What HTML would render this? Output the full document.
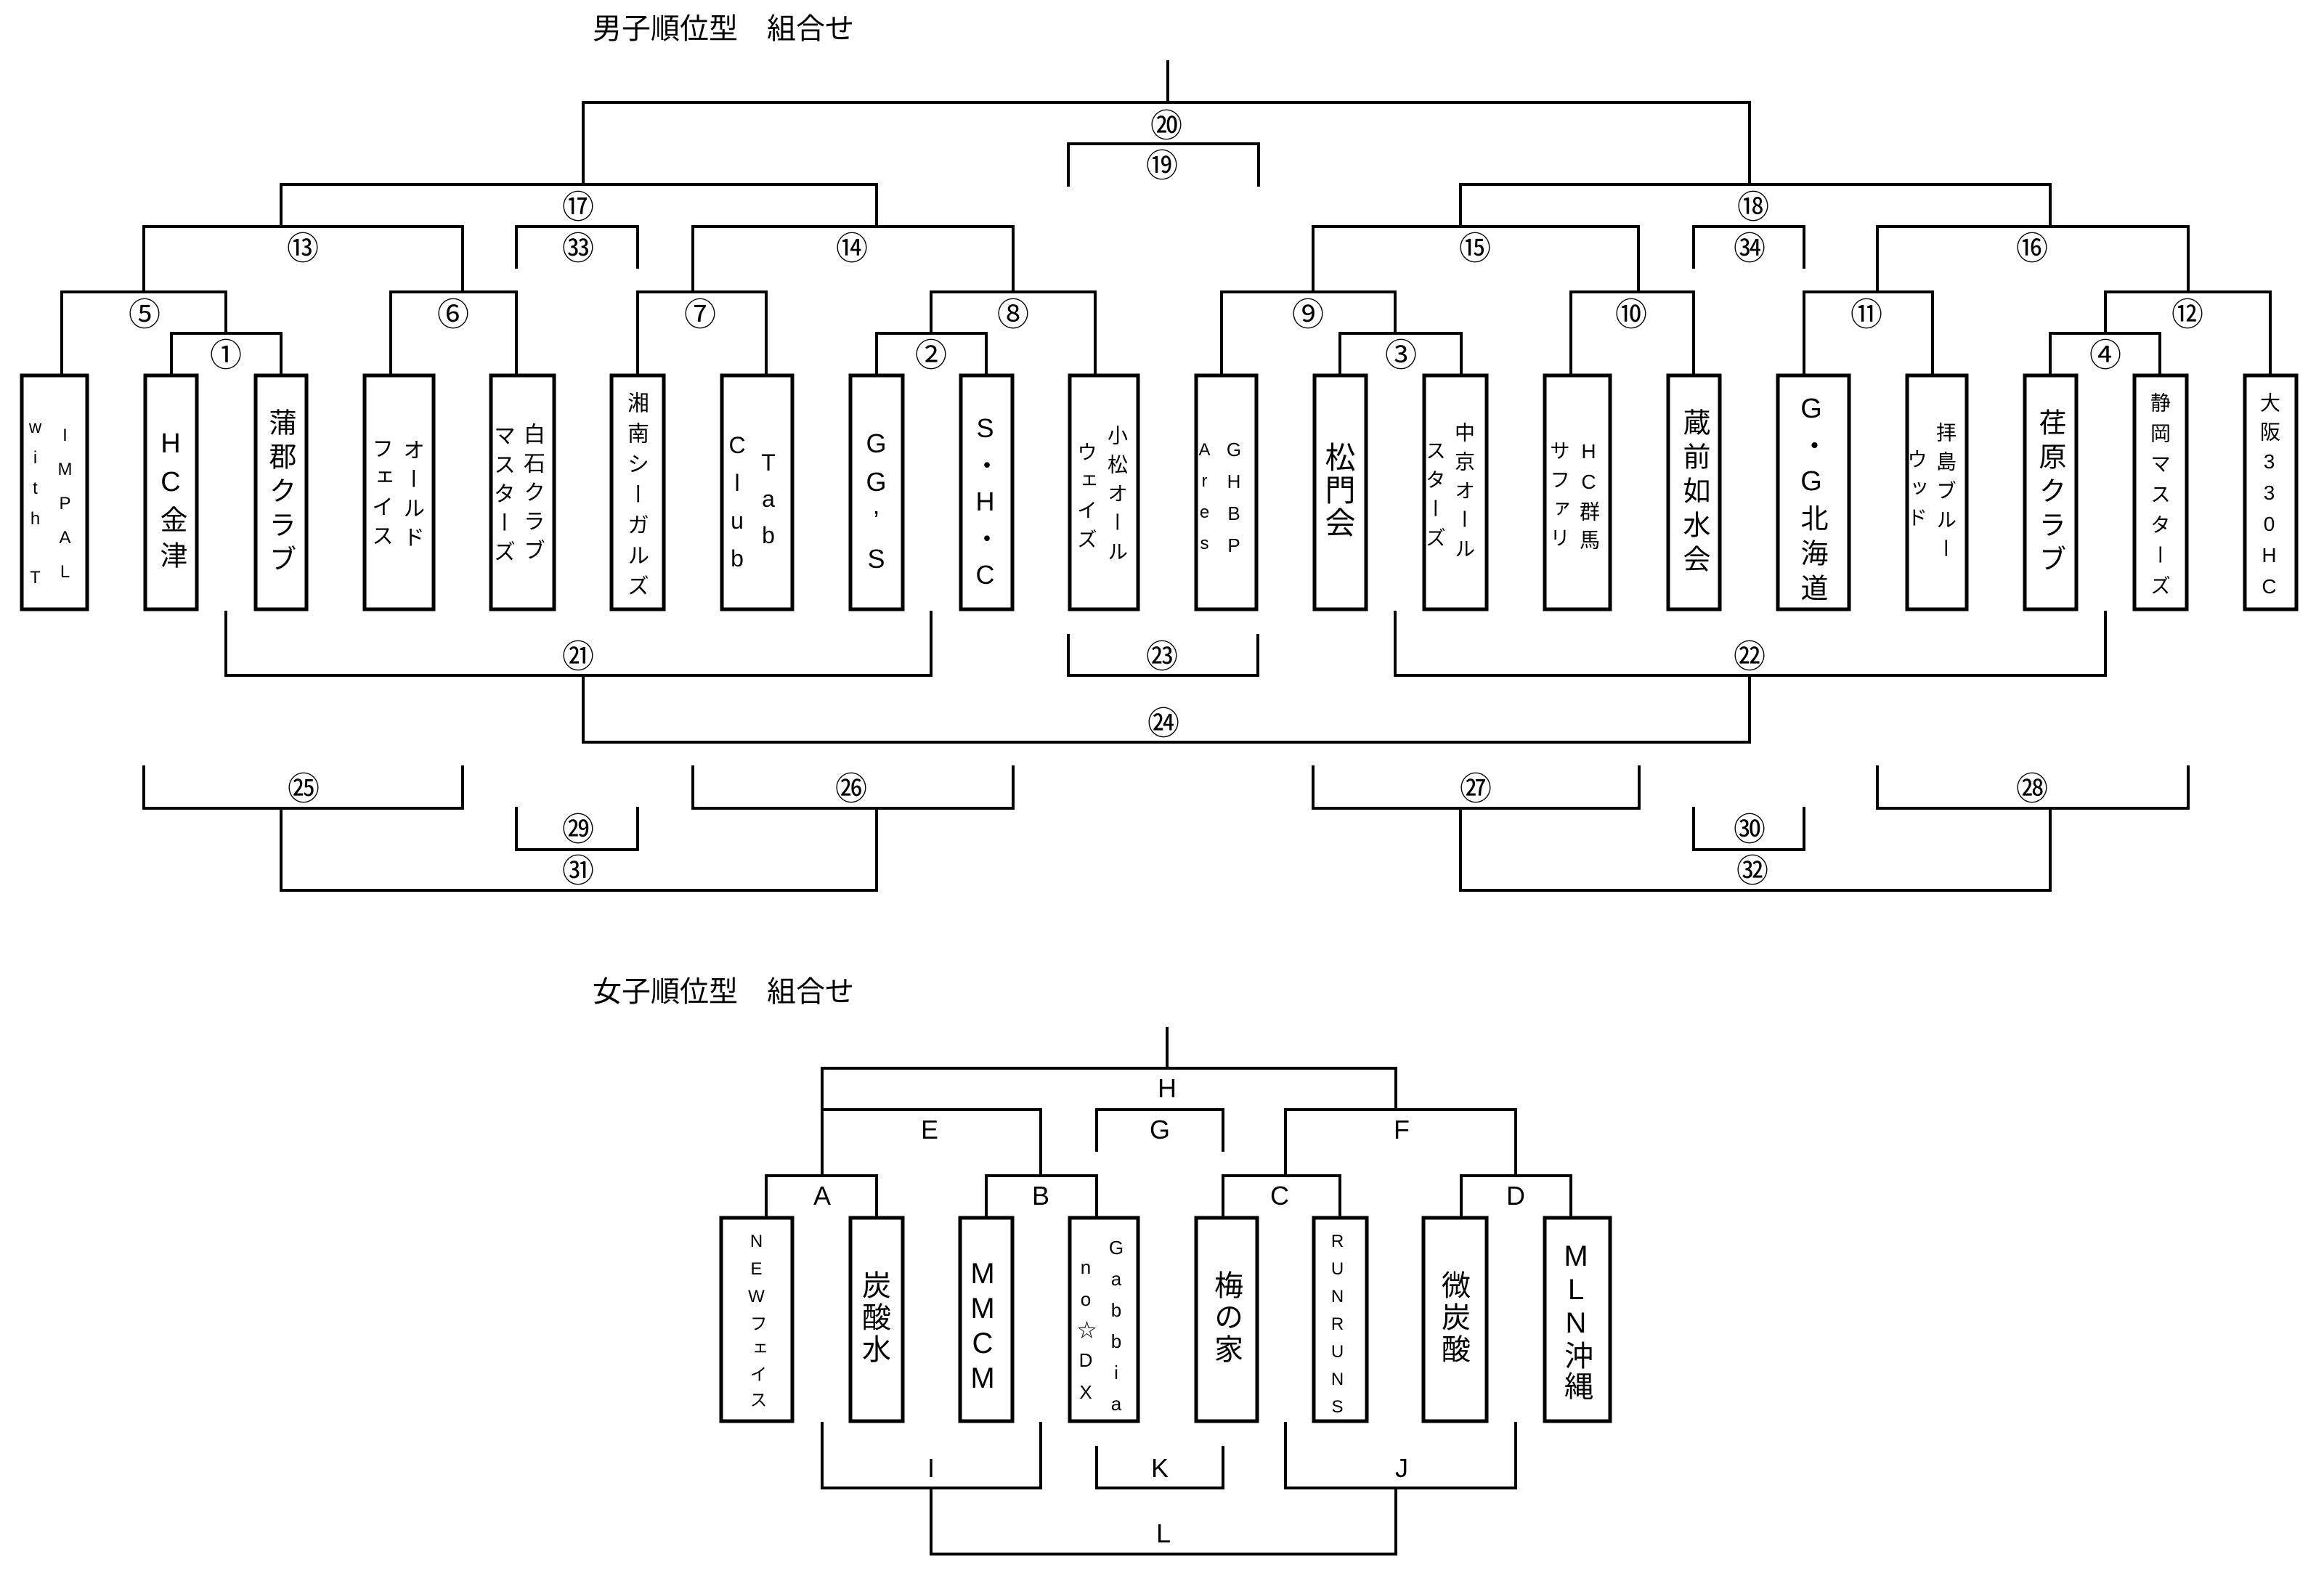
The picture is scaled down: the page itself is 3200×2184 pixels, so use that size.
<!DOCTYPE html>
<html><head><meta charset="utf-8">
<style>
html,body{margin:0;padding:0;background:#fff;}
body{width:3200px;height:2184px;position:relative;overflow:hidden;font-family:"Liberation Sans","Noto Sans CJK JP",sans-serif;color:#000;}
svg{position:absolute;left:0;top:0;}
.v{position:absolute;writing-mode:vertical-rl;text-orientation:upright;line-height:1;white-space:nowrap;}
.c{position:absolute;width:100px;margin-left:-50px;text-align:center;font-size:44px;line-height:44px;font-family:"Noto Sans CJK JP","Liberation Sans",sans-serif;}
.l{position:absolute;width:100px;margin-left:-50px;text-align:center;font-size:36px;line-height:40px;}
.t{position:absolute;font-size:40px;line-height:44px;font-family:"Liberation Sans","Noto Sans CJK JP",sans-serif;white-space:pre;}
</style></head><body>
<svg width="3200" height="2184" viewBox="0 0 3200 2184">
<g fill="none" stroke="#000" stroke-width="4" stroke-linejoin="miter">
<path d="M1608 83 V141"/>
<path d="M803 254 V141 H2409 V254"/>
<path d="M1471 257 V198 H1733 V257"/>
<path d="M387 312 V254 H1207 V312"/>
<path d="M198 402 V312 H637 V402"/>
<path d="M711 370 V312 H878 V370"/>
<path d="M954 402 V312 H1395 V402"/>
<path d="M85 515 V402 H311 V459"/>
<path d="M236 515 V459 H387 V515"/>
<path d="M538 515 V402 H711 V515"/>
<path d="M878 515 V402 H1055 V515"/>
<path d="M1282 459 V402 H1508 V515"/>
<path d="M1207 515 V459 H1358 V515"/>
<path d="M2011 312 V254 H2823 V312"/>
<path d="M1808 402 V312 H2256 V402"/>
<path d="M2332 370 V312 H2484 V370"/>
<path d="M2585 402 V312 H3013 V402"/>
<path d="M1682 515 V402 H1921 V459"/>
<path d="M1845 515 V459 H2012 V515"/>
<path d="M2163 515 V402 H2332 V515"/>
<path d="M2484 515 V402 H2661 V515"/>
<path d="M2899 459 V402 H3126 V515"/>
<path d="M2823 515 V459 H2974 V515"/>
<path d="M311 841 V930 H1282 V841"/>
<path d="M1471 873 V930 H1732 V873"/>
<path d="M1921 841 V930 H2899 V841"/>
<path d="M803 930 V1022 H2409 V930"/>
<path d="M198 1054 V1113 H637 V1054"/>
<path d="M711 1111 V1170 H878 V1111"/>
<path d="M954 1054 V1113 H1395 V1054"/>
<path d="M387 1113 V1226 H1207 V1113"/>
<path d="M1808 1054 V1113 H2257 V1054"/>
<path d="M2332 1111 V1170 H2484 V1111"/>
<path d="M2585 1054 V1113 H3013 V1054"/>
<path d="M2011 1113 V1226 H2823 V1113"/>
<path d="M1607 1414 V1471"/>
<path d="M1132 1528 V1471 H1922 V1528"/>
<path d="M1132 1619 V1528 H1433 V1619"/>
<path d="M1510 1586 V1528 H1684 V1586"/>
<path d="M1770 1619 V1528 H2087 V1619"/>
<path d="M1055 1675 V1619 H1207 V1675"/>
<path d="M1358 1675 V1619 H1510 V1675"/>
<path d="M1684 1675 V1619 H1845 V1675"/>
<path d="M2012 1675 V1619 H2163 V1675"/>
<path d="M1132 1958 V2049 H1433 V1958"/>
<path d="M1510 1991 V2049 H1684 V1991"/>
<path d="M1770 1958 V2049 H2087 V1958"/>
<path d="M1282 2049 V2140 H1922 V2049"/>
</g>
<g fill="#fff" stroke="#000" stroke-width="5">
<rect x="30" y="517" width="90" height="322"/>
<rect x="200" y="517" width="71" height="322"/>
<rect x="352" y="517" width="70" height="322"/>
<rect x="502" y="517" width="95" height="322"/>
<rect x="676" y="517" width="87" height="322"/>
<rect x="842" y="517" width="72" height="322"/>
<rect x="994" y="517" width="97" height="322"/>
<rect x="1171" y="517" width="72" height="322"/>
<rect x="1323" y="517" width="71" height="322"/>
<rect x="1473" y="517" width="94" height="322"/>
<rect x="1647" y="517" width="83" height="322"/>
<rect x="1810" y="517" width="71" height="322"/>
<rect x="1961" y="517" width="86" height="322"/>
<rect x="2127" y="517" width="90" height="322"/>
<rect x="2297" y="517" width="71" height="322"/>
<rect x="2448" y="517" width="98" height="322"/>
<rect x="2626" y="517" width="82" height="322"/>
<rect x="2788" y="517" width="71" height="322"/>
<rect x="2939" y="517" width="72" height="322"/>
<rect x="3091" y="517" width="71" height="322"/>
<rect x="993" y="1677" width="98" height="280"/>
<rect x="1171" y="1677" width="72" height="280"/>
<rect x="1322" y="1677" width="72" height="280"/>
<rect x="1473" y="1677" width="94" height="280"/>
<rect x="1647" y="1677" width="84" height="280"/>
<rect x="1809" y="1677" width="73" height="280"/>
<rect x="1960" y="1677" width="87" height="280"/>
<rect x="2127" y="1677" width="90" height="280"/>
</g>
</svg>

<div class="t" style="left:816px;top:18px;">男子順位型　組合せ</div>
<div class="t" style="left:816px;top:1344px;">女子順位型　組合せ</div>

<div class="v" style="left:77px;top:586px;font-size:24px;letter-spacing:20px;">IMPAL</div>
<div class="v" style="left:36px;top:575px;font-size:24px;letter-spacing:15px;">with　T</div>
<div class="v" style="left:216px;top:590px;font-size:38px;letter-spacing:11px;">HC金津</div>
<div class="v" style="left:366px;top:562px;font-size:38px;letter-spacing:9px;">蒲郡クラブ</div>
<div class="v" style="left:551px;top:604px;font-size:30px;letter-spacing:10px;">オールド</div>
<div class="v" style="left:508px;top:602px;font-size:30px;letter-spacing:10px;">フェイス</div>
<div class="v" style="left:717px;top:582px;font-size:30px;letter-spacing:10px;">白石クラブ</div>
<div class="v" style="left:676px;top:584px;font-size:30px;letter-spacing:10px;">マスターズ</div>
<div class="v" style="left:860px;top:539px;font-size:30px;letter-spacing:12px;">湘南シーガルズ</div>
<div class="v" style="left:1042px;top:619px;font-size:32px;letter-spacing:14px;">Tab</div>
<div class="v" style="left:999px;top:595px;font-size:32px;letter-spacing:16px;">Club</div>
<div class="v" style="left:1188px;top:590px;font-size:36px;letter-spacing:12px;">GG’S</div>
<div class="v" style="left:1338px;top:569px;font-size:36px;letter-spacing:12px;">S・H・C</div>
<div class="v" style="left:1523px;top:585px;font-size:28px;letter-spacing:12px;">小松オール</div>
<div class="v" style="left:1481px;top:608px;font-size:28px;letter-spacing:12px;">ウェイズ</div>
<div class="v" style="left:1686px;top:604px;font-size:26px;letter-spacing:14px;">GHBP</div>
<div class="v" style="left:1646px;top:606px;font-size:24px;letter-spacing:16px;">Ares</div>
<div class="v" style="left:1821px;top:608px;font-size:42px;letter-spacing:3px;">松門会</div>
<div class="v" style="left:2001px;top:581px;font-size:28px;letter-spacing:12px;">中京オール</div>
<div class="v" style="left:1961px;top:606px;font-size:28px;letter-spacing:12px;">スターズ</div>
<div class="v" style="left:2173px;top:606px;font-size:28px;letter-spacing:11px;">HC群馬</div>
<div class="v" style="left:2132px;top:606px;font-size:28px;letter-spacing:12px;">サファリ</div>
<div class="v" style="left:2313px;top:562px;font-size:38px;letter-spacing:9px;">蔵前如水会</div>
<div class="v" style="left:2475px;top:542px;font-size:38px;letter-spacing:10px;">G・G北海道</div>
<div class="v" style="left:2664px;top:581px;font-size:28px;letter-spacing:12px;">拝島ブルー</div>
<div class="v" style="left:2624px;top:618px;font-size:28px;letter-spacing:12px;">ウッド</div>
<div class="v" style="left:2803px;top:562px;font-size:38px;letter-spacing:9px;">荏原クラブ</div>
<div class="v" style="left:2959px;top:540px;font-size:28px;letter-spacing:14px;">静岡マスターズ</div>
<div class="v" style="left:3110px;top:540px;font-size:28px;letter-spacing:12px;">大阪330HC</div>

<div class="v" style="left:1029px;top:1696px;font-size:24px;letter-spacing:11px;">NEWフェイス</div>
<div class="v" style="left:1183px;top:1749px;font-size:40px;letter-spacing:4px;">炭酸水</div>
<div class="v" style="left:1333px;top:1732px;font-size:40px;letter-spacing:4px;">MMCM</div>
<div class="v" style="left:1524px;top:1703px;font-size:26px;letter-spacing:13px;">Gabbia</div>
<div class="v" style="left:1482px;top:1730px;font-size:26px;letter-spacing:14px;">no☆DX</div>
<div class="v" style="left:1668px;top:1749px;font-size:40px;letter-spacing:4px;">梅の家</div>
<div class="v" style="left:1829px;top:1696px;font-size:24px;letter-spacing:11px;">RUNRUNS</div>
<div class="v" style="left:1981px;top:1749px;font-size:40px;letter-spacing:4px;">微炭酸</div>
<div class="v" style="left:2150px;top:1708px;font-size:40px;letter-spacing:2px;">MLN沖縄</div>

<div class="c" style="left:1606px;top:147px;">⑳</div>
<div class="c" style="left:1600px;top:202px;">⑲</div>
<div class="c" style="left:796px;top:259px;">⑰</div>
<div class="c" style="left:417px;top:316px;">⑬</div>
<div class="c" style="left:796px;top:316px;">㉝</div>
<div class="c" style="left:1173px;top:316px;">⑭</div>
<div class="c" style="left:199px;top:407px;">⑤</div>
<div class="c" style="left:311px;top:463px;">①</div>
<div class="c" style="left:624px;top:407px;">⑥</div>
<div class="c" style="left:964px;top:407px;">⑦</div>
<div class="c" style="left:1395px;top:407px;">⑧</div>
<div class="c" style="left:1282px;top:463px;">②</div>
<div class="c" style="left:2414px;top:259px;">⑱</div>
<div class="c" style="left:2031px;top:316px;">⑮</div>
<div class="c" style="left:2409px;top:316px;">㉞</div>
<div class="c" style="left:2798px;top:316px;">⑯</div>
<div class="c" style="left:1801px;top:407px;">⑨</div>
<div class="c" style="left:1929px;top:463px;">③</div>
<div class="c" style="left:2246px;top:407px;">⑩</div>
<div class="c" style="left:2570px;top:407px;">⑪</div>
<div class="c" style="left:3012px;top:407px;">⑫</div>
<div class="c" style="left:2899px;top:463px;">④</div>
<div class="c" style="left:796px;top:878px;">㉑</div>
<div class="c" style="left:1600px;top:878px;">㉓</div>
<div class="c" style="left:2409px;top:878px;">㉒</div>
<div class="c" style="left:1602px;top:970px;">㉔</div>
<div class="c" style="left:418px;top:1060px;">㉕</div>
<div class="c" style="left:1172px;top:1060px;">㉖</div>
<div class="c" style="left:796px;top:1116px;">㉙</div>
<div class="c" style="left:796px;top:1173px;">㉛</div>
<div class="c" style="left:2032px;top:1060px;">㉗</div>
<div class="c" style="left:2798px;top:1060px;">㉘</div>
<div class="c" style="left:2409px;top:1116px;">㉚</div>
<div class="c" style="left:2413px;top:1173px;">㉜</div>

<div class="l" style="left:1607px;top:1479px;">H</div>
<div class="l" style="left:1280px;top:1536px;">E</div>
<div class="l" style="left:1597px;top:1536px;">G</div>
<div class="l" style="left:1930px;top:1536px;">F</div>
<div class="l" style="left:1132px;top:1627px;">A</div>
<div class="l" style="left:1433px;top:1627px;">B</div>
<div class="l" style="left:1762px;top:1627px;">C</div>
<div class="l" style="left:2087px;top:1627px;">D</div>
<div class="l" style="left:1282px;top:2002px;">I</div>
<div class="l" style="left:1597px;top:2002px;">K</div>
<div class="l" style="left:1930px;top:2002px;">J</div>
<div class="l" style="left:1602px;top:2092px;">L</div>
</body></html>
